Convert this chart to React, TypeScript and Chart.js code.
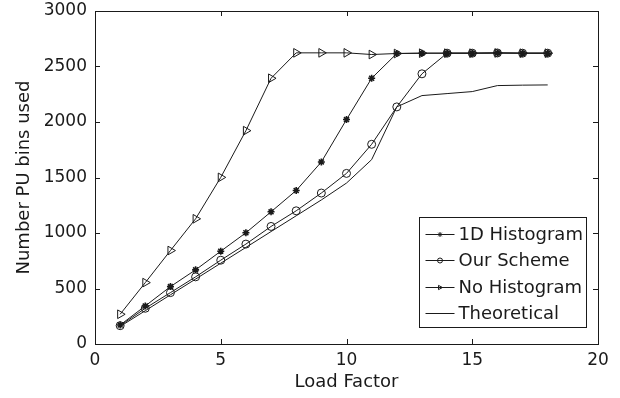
import React, { useEffect, useRef } from "react";
import { Chart, registerables } from "chart.js";

Chart.register(...registerables);

const loadFactor = [1, 2, 3, 4, 5, 6, 7, 8, 9, 10, 11, 12, 13, 14, 15, 16, 17, 18];
const oneDHistogram = [171, 343, 517, 668, 836, 1002, 1191, 1383, 1640, 2022, 2394, 2617, 2620, 2620, 2620, 2622, 2620, 2620];
const ourScheme = [165, 322, 463, 605, 755, 900, 1059, 1200, 1360, 1537, 1799, 2136, 2434, 2620, 2620, 2622, 2620, 2620];
const noHistogram = [268, 553, 842, 1128, 1501, 1922, 2394, 2623, 2623, 2623, 2608, 2617, 2620, 2620, 2620, 2622, 2620, 2620];
const theoretical = [158, 300, 443, 585, 728, 870, 1013, 1155, 1298, 1450, 1661, 2136, 2238, 2256, 2274, 2328, 2332, 2334];

const seriesNames = ["1D Histogram", "Our Scheme", "No Histogram", "Theoretical"];
const xTicks = [0, 5, 10, 15, 20];
const yTicks = [0, 500, 1000, 1500, 2000, 2500, 3000];
const xTitle = "Load Factor";
const yTitle = "Number PU bins used";

const FONT = "'DejaVu Sans', sans-serif";
const INK = "#1a1a1a";

function drawMarker(ctx: CanvasRenderingContext2D, kind: string, x: number, y: number, r: number) {
  ctx.beginPath();
  if (kind === "star") {
    ctx.moveTo(x - r, y); ctx.lineTo(x + r, y);
    ctx.moveTo(x, y - r); ctx.lineTo(x, y + r);
    const d = r * 0.707;
    ctx.moveTo(x - d, y - d); ctx.lineTo(x + d, y + d);
    ctx.moveTo(x - d, y + d); ctx.lineTo(x + d, y - d);
    ctx.stroke();
  } else if (kind === "circle") {
    ctx.arc(x, y, r, 0, Math.PI * 2);
    ctx.stroke();
  } else if (kind === "triangle") {
    ctx.moveTo(x + r, y);
    ctx.lineTo(x - r * 0.6, y - r * 0.85);
    ctx.lineTo(x - r * 0.6, y + r * 0.85);
    ctx.closePath();
    ctx.stroke();
  }
}

const framePlugin = {
  id: "frame",
  afterDatasetsDraw(chart: any) {
    const { ctx, chartArea } = chart;
    const xs = chart.scales.x;
    const ys = chart.scales.y;
    const { left, right, top, bottom } = chartArea;
    ctx.save();
    ctx.strokeStyle = INK;
    ctx.lineWidth = 1;
    ctx.strokeRect(Math.round(left) + 0.5, Math.round(top) + 0.5, Math.round(right - left), Math.round(bottom - top));
    const tl = 5;
    ctx.beginPath();
    for (const v of xTicks) {
      const px = Math.round(xs.getPixelForValue(v)) + 0.5;
      ctx.moveTo(px, bottom); ctx.lineTo(px, bottom - tl);
      ctx.moveTo(px, top); ctx.lineTo(px, top + tl);
    }
    for (const v of yTicks) {
      const py = Math.round(ys.getPixelForValue(v)) + 0.5;
      ctx.moveTo(left, py); ctx.lineTo(left + tl, py);
      ctx.moveTo(right, py); ctx.lineTo(right - tl, py);
    }
    ctx.stroke();

    // legend
    const bw = 167, bh = 110;
    const bx = Math.round(right - 12 - bw) + 0.5;
    const by = Math.round(bottom - 17 - bh) + 0.5;
    ctx.fillStyle = "#ffffff";
    ctx.fillRect(bx, by, bw, bh);
    ctx.strokeRect(bx, by, bw, bh);
    const kinds = ["star", "circle", "triangle", "none"];
    const rowYs = [16, 42, 69, 95];
    ctx.font = `18px ${FONT}`;
    ctx.textBaseline = "middle";
    ctx.textAlign = "left";
    chart.data.datasets.forEach((ds: any, i: number) => {
      const y = Math.round(by + rowYs[i]) + 0.5;
      const x0 = bx + 6;
      const x1 = bx + 35;
      ctx.strokeStyle = INK;
      ctx.lineWidth = 1;
      ctx.beginPath();
      ctx.moveTo(x0, y); ctx.lineTo(x1, y);
      ctx.stroke();
      if (kinds[i] !== "none") drawMarker(ctx, kinds[i], (x0 + x1) / 2, y, 2.5);
      ctx.fillStyle = INK;
      ctx.fillText(ds.label, bx + 39, y + 1);
    });
    ctx.restore();
  },
};

export default function App() {
  const ref = useRef<HTMLCanvasElement | null>(null);
  useEffect(() => {
    if (!ref.current) return;
    const mk = (data: number[]) => loadFactor.map((x, i) => ({ x, y: data[i] }));
    const base = {
      borderColor: INK,
      backgroundColor: "rgba(0,0,0,0)",
      borderWidth: 1,
      pointBorderColor: INK,
      pointBackgroundColor: "rgba(0,0,0,0)",
      pointBorderWidth: 1,
      tension: 0,
      fill: false,
    };
    const chart = new Chart(ref.current, {
      type: "line",
      data: {
        datasets: [
          { ...base, label: seriesNames[0], data: mk(oneDHistogram), pointStyle: "star", pointRadius: 3.5, pointBorderWidth: 1.6 },
          { ...base, label: seriesNames[1], data: mk(ourScheme), pointStyle: "circle", pointRadius: 4 },
          { ...base, label: seriesNames[2], data: mk(noHistogram), pointStyle: "triangle", rotation: 90, pointRotation: 90, pointRadius: 5 },
          { ...base, label: seriesNames[3], data: mk(theoretical), pointRadius: 0 },
        ] as any,
      },
      options: {
        animation: false,
        responsive: false,
        maintainAspectRatio: false,
        layout: { padding: { top: 11, right: 22, bottom: 0, left: 0 } },
        plugins: { legend: { display: false }, tooltip: { enabled: false } },
        scales: {
          x: {
            type: "linear",
            min: 0,
            max: 20,
            afterFit: (s: any) => { s.height = 54; s.paddingLeft = 0; s.paddingRight = 0; },
            afterBuildTicks: (s: any) => { s.ticks = xTicks.map((v) => ({ value: v })); },
            grid: { display: false, drawTicks: false },
            border: { display: false },
            ticks: { font: { family: FONT, size: 17 }, color: INK, padding: 6, maxRotation: 0, callback: (v: any) => String(v) },
            title: { display: true, text: xTitle, font: { family: FONT, size: 18 }, color: INK, padding: { top: 0, bottom: 5 } },
          },
          y: {
            type: "linear",
            min: 0,
            max: 3000,
            afterFit: (s: any) => { s.width = 95; s.paddingTop = 0; s.paddingBottom = 0; },
            afterBuildTicks: (s: any) => { s.ticks = yTicks.map((v) => ({ value: v })); },
            grid: { display: false, drawTicks: false },
            border: { display: false },
            ticks: { font: { family: FONT, size: 17 }, color: INK, padding: 8, callback: (v: any) => String(v) },
            title: { display: true, text: yTitle, font: { family: FONT, size: 18 }, color: INK, padding: { top: 14, bottom: 0 } },
          },
        },
      },
      plugins: [framePlugin],
    });
    return () => chart.destroy();
  }, []);
  return (
    <div style={{ position: "absolute", left: 0, top: 0, width: 620, height: 398, background: "#fff" }}>
      <canvas ref={ref} width={620} height={398} style={{ display: "block" }} />
    </div>
  );
}
